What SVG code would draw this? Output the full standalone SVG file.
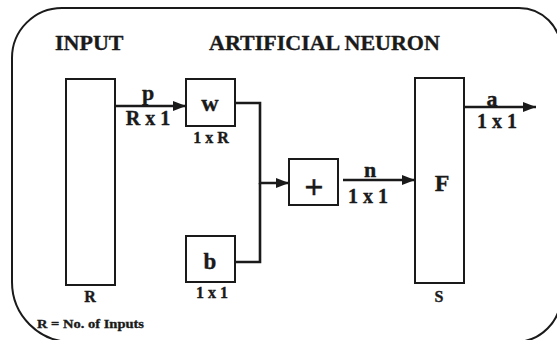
<svg xmlns="http://www.w3.org/2000/svg" width="557" height="340" viewBox="0 0 557 340">
<defs>
<marker id="arr" markerUnits="userSpaceOnUse" markerWidth="14" markerHeight="12" refX="13" refY="5" orient="auto">
<path d="M0,0 L13,5 L0,10 Z" fill="#1a1a1a"/>
</marker>
<style>
.t{font-family:"Liberation Serif","Times New Roman",serif;font-weight:bold;fill:#1a1a1a;stroke:#1a1a1a;stroke-width:0.35}
.c{text-anchor:middle}
.box{fill:none;stroke:#1a1a1a;stroke-width:2}
.ln{fill:none;stroke:#1a1a1a;stroke-width:2.6}
</style>
</defs>
<path d="M62,8 H519 A42,42 0 0 1 561,50 V296 A46,46 0 0 1 515,342 H72 A60,60 0 0 1 12,282 V58 A50,50 0 0 1 62,8 Z" fill="none" stroke="#1a1a1a" stroke-width="2"/>
<text class="t" x="55" y="50" font-size="22">INPUT</text>
<text class="t" x="209" y="50" font-size="22">ARTIFICIAL NEURON</text>
<g id="input">
<rect class="box" x="66" y="79" width="49" height="206"/>
<text class="t c" x="90" y="302" font-size="16">R</text>
</g>
<g id="w">
<rect class="box" x="186" y="79" width="49" height="47"/>
<text class="t c" x="210" y="111" font-size="24">w</text>
<text class="t c" x="211" y="143" font-size="16">1 x R</text>
</g>
<g id="b">
<rect class="box" x="186" y="236" width="49" height="46"/>
<text class="t c" x="210" y="269" font-size="23">b</text>
<text class="t c" x="212" y="298" font-size="16">1 x 1</text>
</g>
<g id="sum">
<rect class="box" x="289" y="159" width="49" height="46"/>
<text class="t c" x="314" y="198" font-size="34">+</text>
</g>
<g id="F">
<rect class="box" x="415" y="78" width="49" height="205"/>
<text class="t c" x="442" y="191" font-size="24">F</text>
<text class="t c" x="439" y="302" font-size="16">S</text>
</g>
<g id="connectors">
<path class="ln" d="M115,106 H186" marker-end="url(#arr)"/>
<path class="ln" d="M235,103 H260 V183 H289" marker-end="url(#arr)"/>
<path class="ln" d="M235,262 H260 V183"/>
<path class="ln" d="M343,180 H415" marker-end="url(#arr)"/>
<path class="ln" d="M464,107 H536" marker-end="url(#arr)"/>
</g>
<text class="t c" x="148" y="100" font-size="22">p</text>
<text class="t c" x="148" y="125" font-size="20">R x 1</text>
<text class="t c" x="370" y="177" font-size="22">n</text>
<text class="t c" x="368" y="203" font-size="20">1 x 1</text>
<text class="t c" x="492" y="106" font-size="22">a</text>
<text class="t c" x="497" y="128" font-size="20">1 x 1</text>
<text class="t" x="37" y="328" font-size="13" textLength="107" lengthAdjust="spacingAndGlyphs">R = No. of Inputs</text>
</svg>
